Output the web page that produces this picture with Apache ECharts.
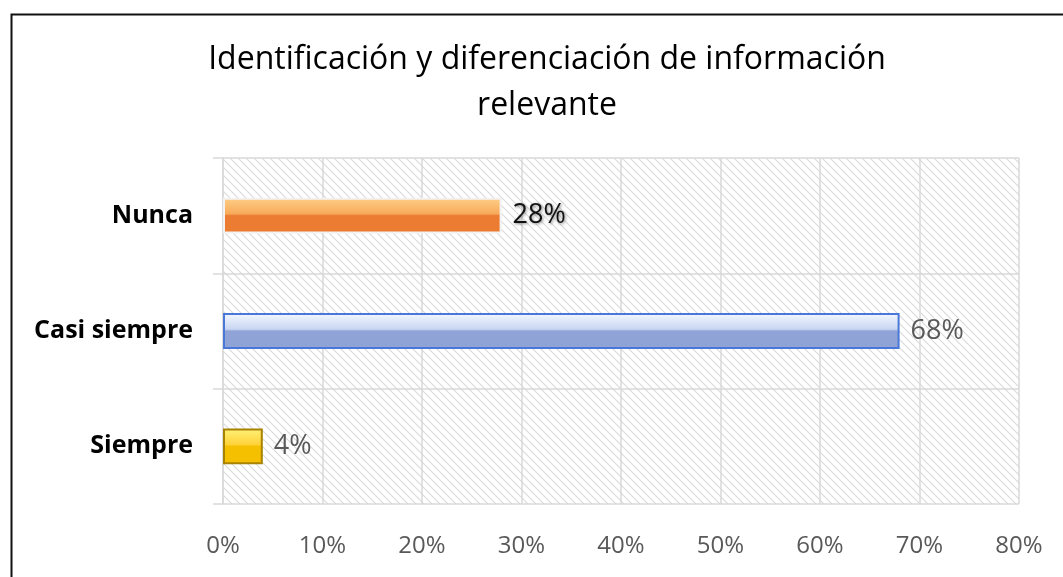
<!DOCTYPE html>
<html>
<head>
<meta charset="utf-8">
<script src="https://cdn.jsdelivr.net/npm/echarts@6/dist/echarts.min.js"></script>
<style>
  html, body { margin: 0; padding: 0; background: #fff; }
  #chart { width: 1063px; height: 577px; }
</style>
</head>
<body>
<div id="chart"></div>
<script>
const categories = ['Siempre', 'Casi siempre', 'Nunca'];
const values = [4, 68, 28];
const xTicks = [0, 10, 20, 30, 40, 50, 60, 70, 80];

// hatch pattern for the plot background
const pat = document.createElement('canvas');
pat.width = 8; pat.height = 8;
const pc = pat.getContext('2d');
pc.fillStyle = '#fff';
pc.fillRect(0, 0, 8, 8);
pc.strokeStyle = '#dadada';
pc.lineWidth = 1.2;
pc.beginPath();
pc.moveTo(-1, -1); pc.lineTo(9, 9);
pc.moveTo(-1, 7); pc.lineTo(1, 9);
pc.moveTo(7, -1); pc.lineTo(9, 1);
pc.stroke();

const grad = (a, b, c) => new echarts.graphic.LinearGradient(0, 0, 0, 1, [
  { offset: 0, color: a }, { offset: 0.45, color: b },
  { offset: 0.5, color: c }, { offset: 1, color: c }
]);

const styles = [
  { fill: grad('#fff27a', '#ffd23a', '#f5c000'), border: '#a88200', label: '#595959', shadow: false },
  { fill: grad('#f4f8ff', '#c9d6f2', '#8fa3d6'), border: '#4a78d8', label: '#595959', shadow: false },
  { fill: grad('#fdd088', '#f8a95a', '#ec7c32'), border: '#f2f2f2', label: '#111', shadow: true }
];

const chart = echarts.init(document.getElementById('chart'));
const font = "'Open Sans', sans-serif";

chart.setOption({
  backgroundColor: '#fff',
  title: {
    text: 'Identificación y diferenciación de información\nrelevante',
    left: 542, top: 32, textAlign: 'center',
    textStyle: { fontFamily: font, fontSize: 32, fontWeight: 'normal', color: '#000', lineHeight: 46 }
  },
  graphic: [{
    type: 'rect', left: 9, top: 12,
    shape: { width: 1100, height: 620 },
    style: { fill: 'none', stroke: '#111', lineWidth: 2 }
  }],
  grid: {
    left: 223, right: 44, top: 158, bottom: 73,
    show: true, backgroundColor: { image: pat, repeat: 'repeat' }, borderWidth: 0
  },
  xAxis: {
    type: 'value', min: 0, max: 80, interval: 10,
    axisLine: { show: false }, axisTick: { show: false },
    splitLine: { show: true, lineStyle: { color: '#d9d9d9', width: 1.5 } },
    axisLabel: {
      formatter: v => xTicks.includes(v) ? v + '%' : '',
      fontFamily: font, fontSize: 24, color: '#595959', margin: 30
    }
  },
  yAxis: {
    type: 'category', data: categories,
    axisLine: { show: true, lineStyle: { color: '#d9d9d9', width: 1.5 } },
    axisTick: { show: true, length: 10, lineStyle: { color: '#d9d9d9', width: 1.5 } },
    splitLine: { show: true, lineStyle: { color: '#d9d9d9', width: 1.5 } },
    axisLabel: { fontFamily: font, fontSize: 25, fontWeight: 'bold', color: '#000', margin: 30 }
  },
  series: [{
    type: 'bar',
    barWidth: '31%',
    data: values.map((v, i) => ({
      value: v,
      itemStyle: { color: styles[i].fill, borderColor: styles[i].border, borderWidth: 2 },
      label: {
        color: styles[i].label,
        textShadowColor: styles[i].shadow ? 'rgba(0,0,0,0.45)' : 'transparent',
        textShadowBlur: styles[i].shadow ? 3 : 0,
        textShadowOffsetX: styles[i].shadow ? 1 : 0,
        textShadowOffsetY: styles[i].shadow ? 1 : 0
      }
    })),
    label: {
      show: true, position: 'right', distance: 11,
      formatter: p => p.value + '%',
      fontFamily: font, fontSize: 27
    }
  }]
});
</script>
</body>
</html>
